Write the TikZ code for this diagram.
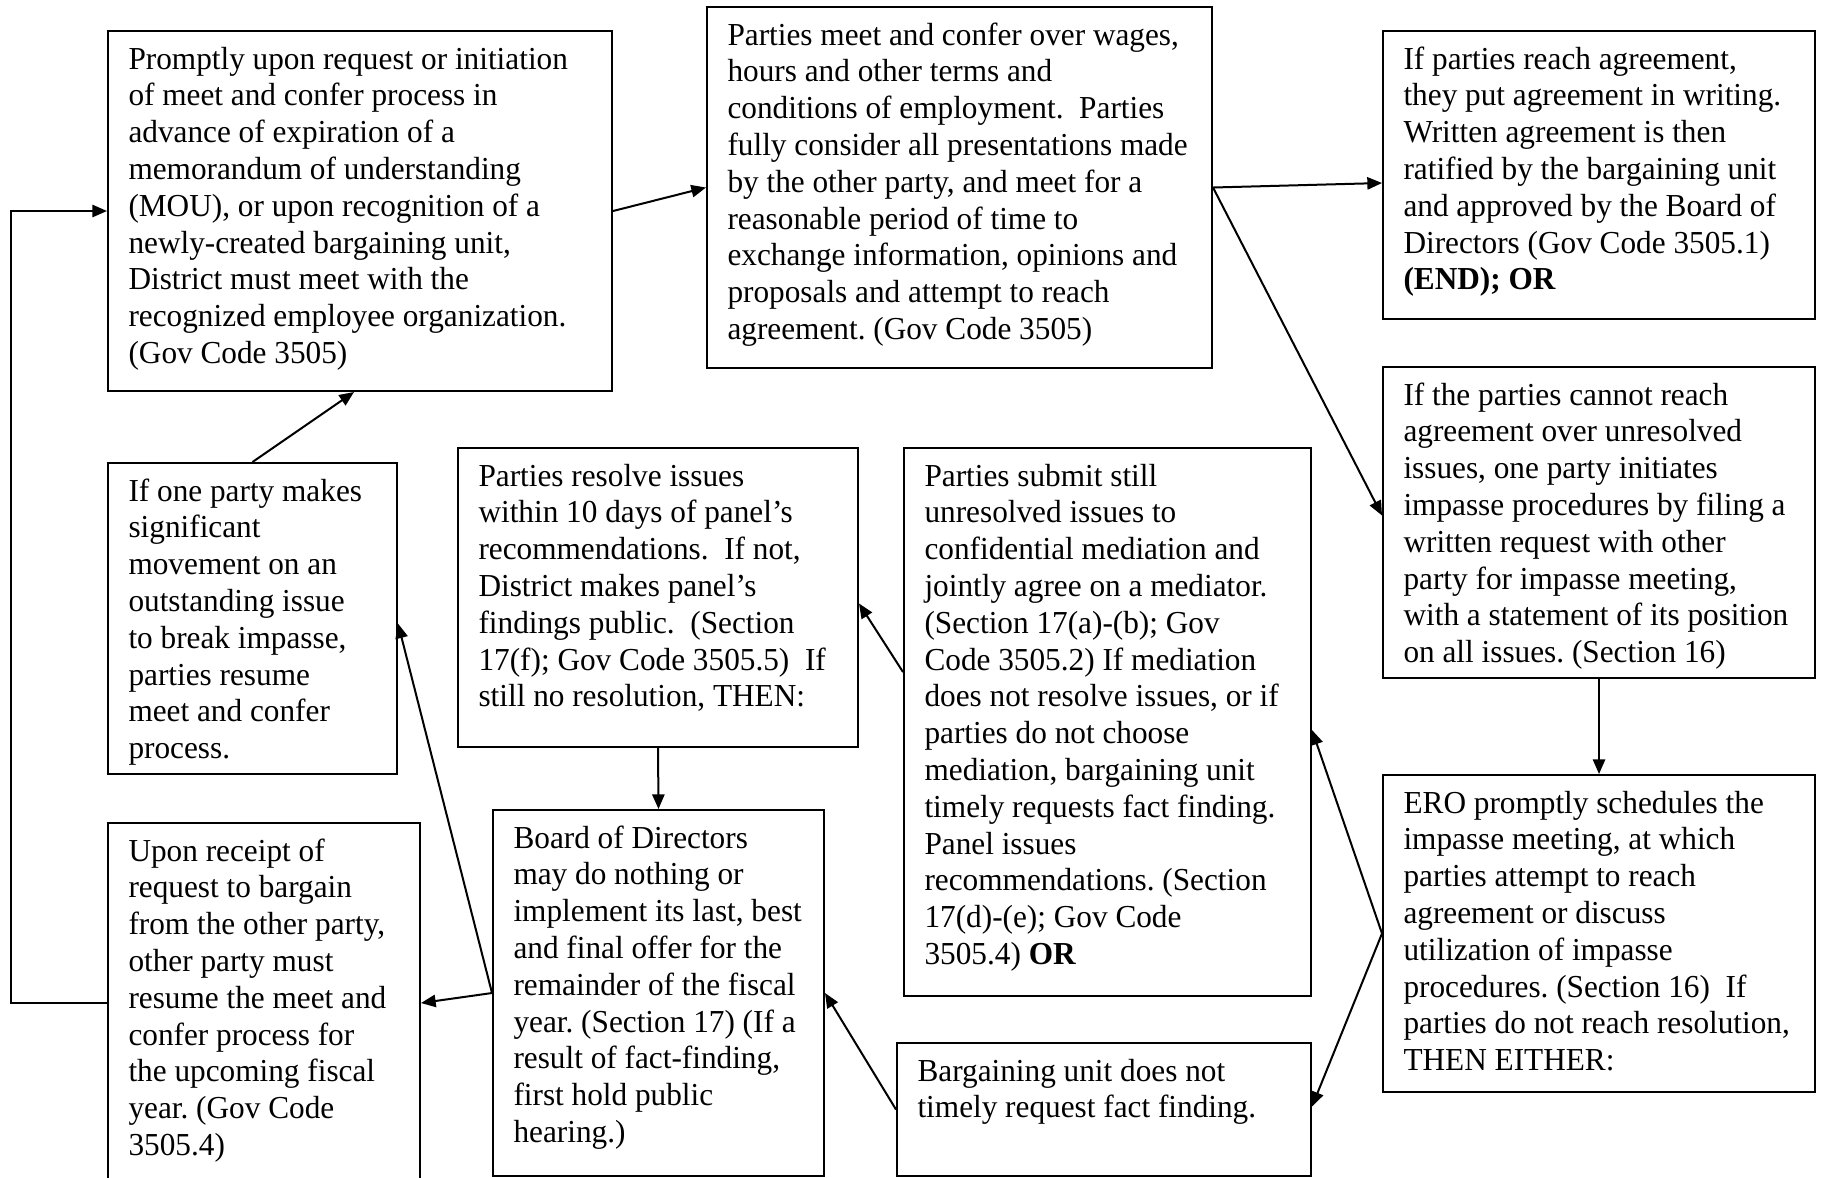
\documentclass[tikz,border=0pt]{standalone}
\usepackage{fontspec}
\setmainfont{Liberation Serif}[FakeStretch=0.977]
\usetikzlibrary{arrows.meta,calc}
\newdimen\pxu \pxu=0.375pt
\newcommand\bt[3]{\parbox[t][\dimexpr#2\pxu-9.2pt\relax][t]{\dimexpr#1\pxu-15.4pt\relax}{\begin{tabular}[t]{@{}l@{}}#3\end{tabular}}}
\frenchspacing
\begin{document}
\begin{tikzpicture}[x=0.375pt,y=-0.375pt,
  box/.style={draw, line width=0.75pt, inner xsep=7.7pt, inner ysep=4.6pt, anchor=north west, font=\fontsize{12}{13.8}\selectfont},
  arr/.style={-{Triangle[length=5.5pt,width=4.6pt]}, line width=0.75pt}]
\useasboundingbox (0,0) rectangle (1821,1177);
\fill[white] (0,0) rectangle (1821,1177);
\clip (0,0) rectangle (1821,1177);

\node[box] (A) at (107,30) {\bt{504}{360}{Promptly upon request or initiation\\
of meet and confer process in\\
advance of expiration of a\\
memorandum of understanding\\
(MOU), or upon recognition of a\\
newly-created bargaining unit,\\
District must meet with the\\
recognized employee organization.\\
(Gov Code 3505)}};

\node[box] (B) at (706,6) {\bt{505}{361}{Parties meet and confer over wages,\\
hours and other terms and\\
conditions of employment.\ \ Parties\\
fully consider all presentations made\\
by the other party, and meet for a\\
reasonable period of time to\\
exchange information, opinions and\\
proposals and attempt to reach\\
agreement. (Gov Code 3505)}};

\node[box] (C) at (1382,30) {\bt{432}{288}{If parties reach agreement,\\
they put agreement in writing.\\
Written agreement is then\\
ratified by the bargaining unit\\
and approved by the Board of\\
Directors (Gov Code 3505.1)\\
\textbf{(END); OR}}};

\node[box] (D) at (1382,366) {\bt{432}{311}{If the parties cannot reach\\
agreement over unresolved\\
issues, one party initiates\\
impasse procedures by filing a\\
written request with other\\
party for impasse meeting,\\
with a statement of its position\\
on all issues. (Section 16)}};

\node[box] (E) at (1382,774) {\bt{432}{317}{ERO promptly schedules the\\
impasse meeting, at which\\
parties attempt to reach\\
agreement or discuss\\
utilization of impasse\\
procedures. (Section 16)\ \ If\\
parties do not reach resolution,\\
THEN EITHER:}};

\node[box] (F) at (903,447) {\bt{407}{548}{Parties submit still\\
unresolved issues to\\
confidential mediation and\\
jointly agree on a mediator.\\
(Section 17(a)-(b); Gov\\
Code 3505.2) If mediation\\
does not resolve issues, or if\\
parties do not choose\\
mediation, bargaining unit\\
timely requests fact finding.\\
Panel issues\\
recommendations. (Section\\
17(d)-(e); Gov Code\\
3505.4) \textbf{OR}}};

\node[box] (G) at (896,1042) {\bt{414}{133}{Bargaining unit does not\\
timely request fact finding.}};

\node[box] (H) at (457,447) {\bt{400}{299}{Parties resolve issues\\
within 10 days of panel’s\\
recommendations.\ \ If not,\\
District makes panel’s\\
findings public.\ \ (Section\\
17(f); Gov Code 3505.5)\ \ If\\
still no resolution, THEN:}};

\node[box] (I) at (492,809) {\bt{331}{366}{Board of Directors\\
may do nothing or\\
implement its last, best\\
and final offer for the\\
remainder of the fiscal\\
year. (Section 17) (If a\\
result of fact-finding,\\
first hold public\\
hearing.)}};

\node[box] (J) at (107,462) {\bt{289}{311}{If one party makes\\
significant\\
movement on an\\
outstanding issue\\
to break impasse,\\
parties resume\\
meet and confer\\
process.}};

\node[box] (K) at (107,822) {\bt{312}{370}{Upon receipt of\\
request to bargain\\
from the other party,\\
other party must\\
resume the meet and\\
confer process for\\
the upcoming fiscal\\
year. (Gov Code\\
3505.4)}};

\draw[arr] (A.east) -- (B.west);
\draw[arr] (B.east) -- ($(C.west)+(0,8)$);
\draw[arr] (B.east) -- ($(D.west)+(0,-7)$);
\draw[arr] (D.south) -- (E.north);
\draw[arr] (E.west) -- ($(F.east)+(0,8)$);
\draw[arr] (E.west) -- ($(G.east)+(0,-3)$);
\draw[arr] ($(F.west)+(0,-50)$) -- ($(H.east)+(0,6)$);
\draw[arr] (H.south) -- (I.north);
\draw[arr] (G.west) -- (I.east);
\draw[arr] (I.west) -- ($(K.east)+(0,-5)$);
\draw[arr] (I.west) -- ($(J.east)+(0,5)$);
\draw[arr] (J.north) -- ($(A.south)+(-6,0)$);
\draw[arr] ($(K.west)+(0,-5)$) -- ++(-96,0) |- (A.west);
\end{tikzpicture}
\end{document}
